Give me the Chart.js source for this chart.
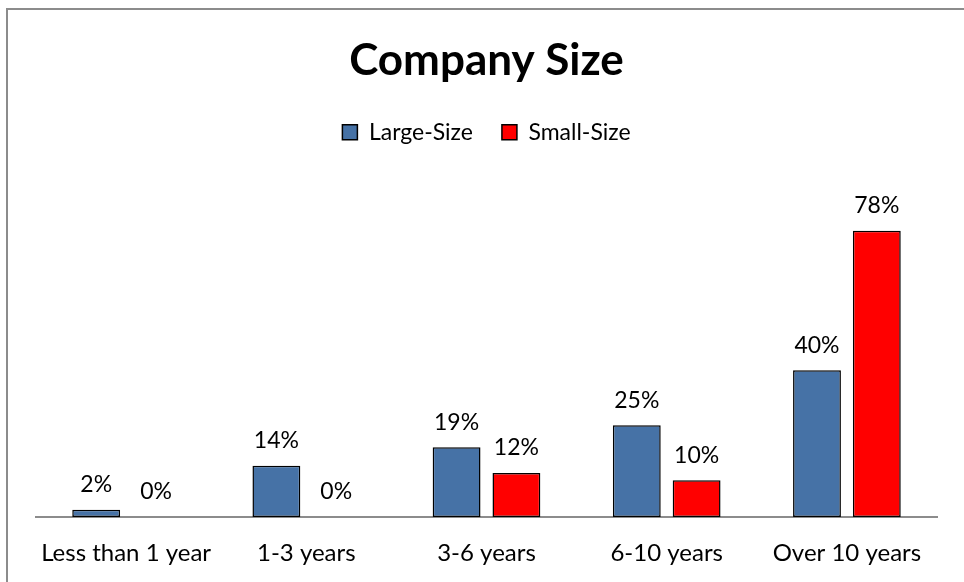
<!DOCTYPE html>
<html>
<head>
<meta charset="utf-8">
<script src="https://cdn.jsdelivr.net/npm/chart.js@4"></script>
<style>
  html, body { margin: 0; padding: 0; background: #fff; overflow: hidden; }
  #wrap { position: relative; width: 964px; height: 582px; }
  #frame { position: absolute; left: 6px; top: 8px; width: 1000px; height: 1000px; border: 2px solid #8c8c8c; }
  #myChart { position: absolute; left: 0; top: 0; }
</style>
</head>
<body>
<div id="wrap">
  <div id="frame"></div>
  <canvas id="myChart" width="964" height="582"></canvas>
</div>
<script>
// data
const categories = ['Less than 1 year', '1-3 years', '3-6 years', '6-10 years', 'Over 10 years'];
const largeSize = [2, 14, 19, 25, 40];
const smallSize = [0, 0, 12, 10, 78];

const fontFam = 'Lato, "Liberation Sans", sans-serif';

// percentage labels on top of each bar
const barLabels = {
  id: 'barLabels',
  afterDatasetsDraw(chart) {
    const ctx = chart.ctx;
    ctx.save();
    ctx.font = '23px ' + fontFam;
    ctx.fillStyle = '#000';
    ctx.textAlign = 'center';
    ctx.textBaseline = 'middle';
    chart.data.datasets.forEach((ds, i) => {
      chart.getDatasetMeta(i).data.forEach((bar, j) => {
        ctx.fillText(ds.data[j] + '%', bar.x, bar.y - 25);
      });
    });
    ctx.restore();
  }
};

const ctx = document.getElementById('myChart');

new Chart(ctx, {
  type: 'bar',
  data: {
    labels: categories,
    datasets: [{
      label: 'Large-Size',
      data: largeSize,
      backgroundColor: '#4672A6',
      borderColor: '#000',
      borderWidth: 1.5,
      borderSkipped: false
    }, {
      label: 'Small-Size',
      data: smallSize,
      backgroundColor: '#FF0000',
      borderColor: '#000',
      borderWidth: 1.5,
      borderSkipped: false
    }]
  },
  options: {
    responsive: false,
    animation: false,
    categoryPercentage: 0.664,
    barPercentage: 0.8,
    layout: {
      padding: { left: 36, right: 27, top: 0, bottom: 10 }
    },
    plugins: {
      title: {
        display: true,
        text: 'Company Size',
        color: '#000',
        font: { family: fontFam, size: 44, weight: 'bold' },
        padding: { top: 34, bottom: 5 }
      },
      legend: {
        display: true,
        labels: {
          color: '#000',
          font: { family: fontFam, size: 23 },
          boxWidth: 15,
          boxHeight: 15,
          padding: 29
        }
      },
      tooltip: { enabled: false }
    },
    scales: {
      x: {
        z: 1,
        afterFit(scale) { scale.height = 55; },
        grid: { display: false, drawTicks: false },
        border: { display: true, color: '#8c8c8c', width: 2 },
        ticks: {
          color: '#000',
          padding: 22,
          font: { family: fontFam, size: 24 }
        }
      },
      y: {
        display: false,
        min: 0,
        max: 99
      }
    }
  },
  plugins: [barLabels]
});
</script>
</body>
</html>
